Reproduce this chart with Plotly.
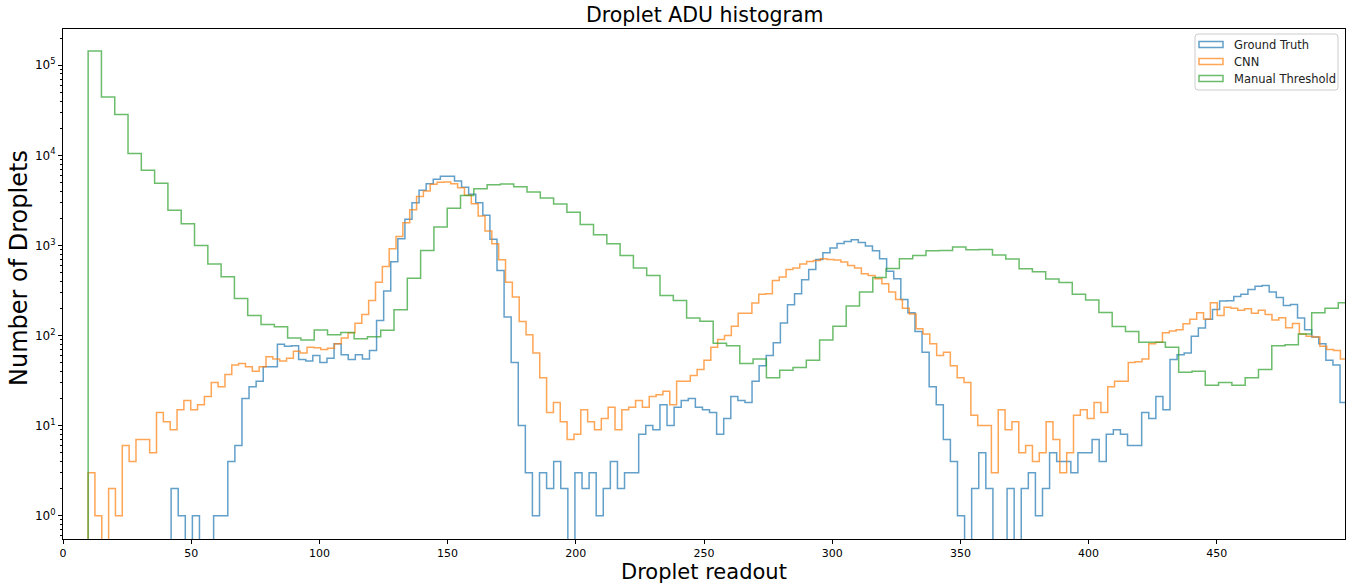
import numpy as np
import plotly.graph_objects as go

# ---------------- data ----------------
series_names = ["Ground Truth", "CNN", "Manual Threshold"]

gt_bin_start = 42.17
gt_bin_width = 2.763
gt_counts = [2, 1, 0, 1, 0, 0, 1, 1, 4, 6, 20, 27, 31, 45, 45, 80, 76, 77, 54, 52,
             60, 50, 56, 81, 61, 54, 61, 55, 68, 147, 311, 659, 1187, 1945, 2980, 4085, 4843, 5410, 5840, 5840,
             5190, 4410, 3690, 2980, 2155, 1167, 528, 160, 50, 10, 3, 1, 3, 2, 4, 2, 0, 3, 2, 3,
             1, 2, 4, 2, 3, 3, 8, 10, 9, 17, 10, 16, 19, 20, 16, 15, 14, 8, 12, 21,
             19, 18, 31, 46, 60, 83, 138, 219, 290, 415, 541, 699, 829, 934, 1052, 1107, 1156, 1079, 983, 873,
             711, 518, 426, 251, 179, 111, 65, 27, 17, 7, 4, 1, 0, 2, 5, 2, 0, 0, 2, 0,
             2, 3, 1, 2, 5, 4, 4, 3, 5, 5, 7, 4, 8, 9, 8, 6, 6, 14, 12, 21,
             15, 54, 61, 64, 98, 121, 151, 194, 241, 243, 271, 286, 324, 353, 359, 303, 264, 215, 221, 156,
             116, 96, 81, 53, 47, 18]

cnn_bin_start = 9.78
cnn_bin_width = 2.669
cnn_counts = [3, 1, 0, 2, 1, 6, 4, 7, 7, 5, 14, 11, 9, 15, 19, 15, 17, 21, 30, 27,
              37, 47, 49, 45, 40, 45, 58, 55, 52, 56, 67, 64, 74, 73, 70, 72, 81, 94, 107, 137,
              171, 245, 391, 584, 918, 1259, 1786, 2490, 3500, 4016, 4764, 5012, 5058, 4843, 4372, 3594, 2904, 2118, 1443, 1044,
              693, 391, 267, 143, 102, 64, 34, 14, 18, 11, 7, 8, 15, 11, 9, 12, 16, 9, 15, 16,
              19, 16, 21, 22, 24, 17, 31, 31, 36, 42, 53, 74, 90, 100, 127, 177, 177, 229, 286, 290,
              408, 445, 541, 560, 620, 664, 681, 711, 699, 687, 653, 600, 560, 484, 464, 426, 375, 303, 251, 201,
              173, 119, 104, 81, 60, 65, 46, 34, 30, 13, 10, 10, 3, 15, 9, 11, 5, 6, 4, 5,
              11, 7, 3, 5, 13, 15, 12, 18, 14, 27, 31, 31, 50, 51, 55, 81, 84, 107, 112, 116,
              135, 151, 179, 151, 231, 167, 206, 201, 190, 198, 177, 190, 171, 149, 157, 122, 136, 104, 98, 96,
              76, 70, 68, 55]

mt_bin_start = 9.8
mt_bin_width = 5.187
mt_counts = [144000, 44500, 28300, 10500, 6810, 4890, 2450, 1740, 1000, 620,
             449, 258, 167, 132, 125, 94, 89, 115, 102, 108,
             92, 97, 114, 193, 433, 880, 1600, 2580, 3590, 4260,
             4720, 4800, 4490, 3920, 3360, 2880, 2330, 1710, 1310, 1040,
             774, 560, 464, 278, 245, 156, 144, 82, 77, 49,
             55, 34, 41, 44, 53, 89, 127, 212, 303, 441,
             555, 711, 774, 873, 877, 958, 895, 903, 781, 705,
             550, 510, 423, 388, 286, 247, 180, 126, 111, 84,
             84, 74, 39, 40, 28, 30, 28, 34, 42, 77,
             79, 104, 179, 201, 231]

x_tick_vals = [0, 50, 100, 150, 200, 250, 300, 350, 400, 450]
y_tick_vals = [1, 10, 100, 1000, 10000, 100000]
y_tick_text = ["10<sup>0</sup>", "10<sup>1</sup>", "10<sup>2</sup>",
               "10<sup>3</sup>", "10<sup>4</sup>", "10<sup>5</sup>"]

# ---------------- styling ----------------
colors = ["rgba(31,119,180,0.7)", "rgba(255,127,14,0.7)", "rgba(44,160,44,0.7)"]
FONT = "DejaVu Sans"
W, H = 1363, 588
PL, PR, PT, PB = 63, 1345, 29, 539   # plot area in pixels
FLOOR = 1e-3  # zero-count bins drop below the visible log range


def step_xy(start, width, counts):
    c = np.asarray(counts, dtype=float)
    c = np.where(c > 0, c, FLOOR)
    edges = start + width * np.arange(len(c) + 1)
    x = np.concatenate([[edges[0]], edges[:-1], [edges[-1], edges[-1]]])
    y = np.concatenate([[FLOOR], c, [c[-1], FLOOR]])
    return x, y


fig = go.Figure()
for name, start, width, counts, col in zip(
        series_names,
        [gt_bin_start, cnn_bin_start, mt_bin_start],
        [gt_bin_width, cnn_bin_width, mt_bin_width],
        [gt_counts, cnn_counts, mt_counts],
        colors):
    xs, ys = step_xy(start, width, counts)
    fig.add_trace(go.Scatter(x=xs, y=ys, mode="lines", name=name,
                             line=dict(color=col, width=1.5, shape="hv"),
                             showlegend=False))


def px2x(px):
    return (px - PL) / (PR - PL)


def px2y(py):
    return (PB - py) / (PB - PT)


shapes = []
annotations = []

# legend box (rounded)
bx0, bx1, by0, by1, r = 1195, 1338, 34, 90, 3
path = (f"M {px2x(bx0 + r)},{px2y(by0)} L {px2x(bx1 - r)},{px2y(by0)} "
        f"Q {px2x(bx1)},{px2y(by0)} {px2x(bx1)},{px2y(by0 + r)} "
        f"L {px2x(bx1)},{px2y(by1 - r)} Q {px2x(bx1)},{px2y(by1)} {px2x(bx1 - r)},{px2y(by1)} "
        f"L {px2x(bx0 + r)},{px2y(by1)} Q {px2x(bx0)},{px2y(by1)} {px2x(bx0)},{px2y(by1 - r)} "
        f"L {px2x(bx0)},{px2y(by0 + r)} Q {px2x(bx0)},{px2y(by0)} {px2x(bx0 + r)},{px2y(by0)} Z")
shapes.append(dict(type="path", xref="paper", yref="paper", path=path,
                   line=dict(color="rgba(204,204,204,1)", width=1),
                   fillcolor="rgba(255,255,255,0.8)"))
row_y = [44.5, 61.5, 78.5]
for name, col, ry in zip(series_names, colors, row_y):
    shapes.append(dict(type="rect", xref="paper", yref="paper",
                       x0=px2x(1199), x1=px2x(1223), y0=px2y(ry - 3), y1=px2y(ry + 3),
                       line=dict(color=col, width=1.5), fillcolor="rgba(0,0,0,0)"))
    annotations.append(dict(xref="paper", yref="paper", x=px2x(1232), y=px2y(ry),
                            xanchor="left", yanchor="middle", showarrow=False,
                            text=name, font=dict(family=FONT, size=11.5, color="#222")))

# title and axis labels
annotations.append(dict(xref="paper", yref="paper", x=0.5, y=px2y(14.5),
                        xanchor="center", yanchor="middle", showarrow=False,
                        text="Droplet ADU histogram", font=dict(family=FONT, size=20.5, color="black")))
annotations.append(dict(xref="paper", yref="paper", x=0.5, y=px2y(572),
                        xanchor="center", yanchor="middle", showarrow=False,
                        text="Droplet readout", font=dict(family=FONT, size=21, color="black")))
annotations.append(dict(xref="paper", yref="paper", x=px2x(19), y=px2y(268),
                        xanchor="center", yanchor="middle", showarrow=False, textangle=-90,
                        text="Number of Droplets", font=dict(family=FONT, size=24, color="black")))

minor_vals = [m * 10 ** e for e in range(-1, 6) for m in range(2, 10)]

fig.update_layout(
    width=W, height=H,
    margin=dict(l=PL, r=W - PR, t=PT, b=H - PB, pad=0),
    paper_bgcolor="white", plot_bgcolor="white",
    font=dict(family=FONT, size=11, color="black"),
    shapes=shapes, annotations=annotations,
    xaxis=dict(range=[0, 500], tickmode="array", tickvals=x_tick_vals,
               ticks="outside", ticklen=4, tickcolor="black", tickwidth=1,
               showline=True, linecolor="black", linewidth=1, mirror=True,
               showgrid=False, zeroline=False,
               tickfont=dict(family=FONT, size=11, color="black")),
    yaxis=dict(type="log", range=[-0.259, 5.402], tickmode="array",
               tickvals=y_tick_vals, ticktext=y_tick_text,
               ticks="outside", ticklen=4, tickcolor="black", tickwidth=1,
               minor=dict(tickmode="array", tickvals=minor_vals, ticks="outside",
                          ticklen=2, tickcolor="black", tickwidth=0.8, showgrid=False),
               showline=True, linecolor="black", linewidth=1, mirror=True,
               showgrid=False, zeroline=False,
               tickfont=dict(family=FONT, size=12, color="black")),
    hovermode=False,
)

fig.write_html("out.html", config={"displayModeBar": False},
               post_script="document.body.style.margin='0px';")
